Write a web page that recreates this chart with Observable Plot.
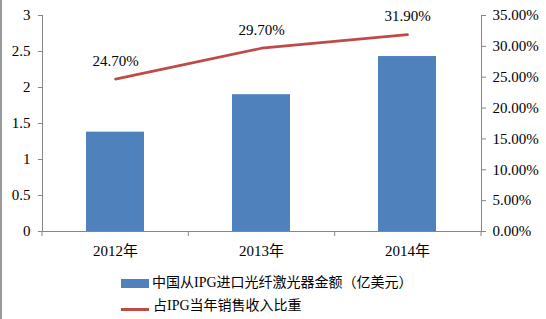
<!DOCTYPE html>
<html><head><meta charset="utf-8">
<script src="https://cdn.jsdelivr.net/npm/d3@7"></script>
<script src="https://cdn.jsdelivr.net/npm/@observablehq/plot@0.6"></script>
<style>
body{margin:0;background:#fff;}
#wrap{position:relative;width:546px;height:319px;overflow:hidden;background:#fff;font-family:"Liberation Serif","Times New Roman",serif,"Noto Sans CJK SC";}
#wrap svg{position:absolute;left:0;top:0;overflow:visible;}
#wrap svg text{font-family:"Liberation Serif","Times New Roman",serif,"Noto Sans CJK SC" !important;}
.border{position:absolute;left:0;top:0;width:2px;height:319px;background:#9a9a9a;}
.leg{position:absolute;font-size:14px;line-height:16px;color:#000;white-space:nowrap;}
.sw{position:absolute;}
</style></head><body><div id="wrap"></div>
<script>
const years = ["2012年", "2013年", "2014年"];
const amounts = [1.38, 1.90, 2.43];
const shares = [24.7, 29.7, 31.9];
const leftTicks = [0, 0.5, 1, 1.5, 2, 2.5, 3];
const rightTicks = [0, 5, 10, 15, 20, 25, 30, 35];
const seriesNames = ["中国从IPG进口光纤激光器金额（亿美元）", "占IPG当年销售收入比重"];
const leftMax = 3, rightMax = 35;
const toLeft = v => v * leftMax / rightMax;
const barColor = "#4F81BD", lineColor = "#BE4B48", gray = "#868686";

const data = years.map((y, i) => ({year: y, amount: amounts[i], share: shares[i]}));

const chart = Plot.plot({
  width: 546, height: 262,
  marginTop: 15, marginBottom: 31, marginLeft: 42, marginRight: 65,
  style: {fontSize: "15px", color: "#000", background: "transparent", overflow: "visible"},
  x: {domain: years, paddingInner: 0.6, paddingOuter: 0.3},
  y: {domain: [0, leftMax]},
  marks: [
    Plot.barY(data, {x: "year", y: "amount", fill: barColor}),
    Plot.ruleY([0], {stroke: gray}),
    Plot.frame({anchor: "left", stroke: gray}),
    Plot.frame({anchor: "right", stroke: gray}),
    Plot.axisY(leftTicks, {anchor: "left", label: null, tickSize: 4, tickPadding: 8, stroke: gray, fill: "#000", tickFormat: d => String(d)}),
    Plot.axisY(rightTicks.map(toLeft), {anchor: "right", label: null, tickSize: 4, tickPadding: 7, stroke: gray, fill: "#000", tickFormat: d => (d * rightMax / leftMax).toFixed(2) + "%"}),
    Plot.axisX({anchor: "bottom", label: null, tickSize: 0, tickPadding: 14, fill: "#000"}),
    Plot.line(data, {x: "year", y: d => toLeft(d.share), stroke: lineColor, strokeWidth: 2.7}),
    Plot.text(data, {x: "year", y: d => toLeft(d.share), text: d => d.share.toFixed(2) + "%", dy: -18, fontSize: 15, fill: "#000"})
  ]
});

// category boundary ticks on the x axis, positioned from the x scale's range
const sx = chart.scale("x"), sy = chart.scale("y");
const [r0, r1] = sx.range;
const y0 = sy.apply(0);
const g = d3.select(chart).append("g").attr("stroke", gray);
for (let i = 0; i <= years.length; i++) {
  const xp = r0 + i * (r1 - r0) / years.length;
  g.append("line").attr("x1", xp).attr("x2", xp).attr("y1", y0).attr("y2", y0 + 5);
}

const wrap = document.getElementById("wrap");
wrap.appendChild(chart);

const border = document.createElement("div");
border.className = "border";
wrap.appendChild(border);

function legendItem(swStyle, textLeft, textTop, label) {
  const sw = document.createElement("div");
  sw.className = "sw";
  Object.assign(sw.style, swStyle);
  wrap.appendChild(sw);
  const t = document.createElement("div");
  t.className = "leg";
  t.style.left = textLeft + "px";
  t.style.top = textTop + "px";
  t.textContent = label;
  wrap.appendChild(t);
}
legendItem({left: "121px", top: "279px", width: "28px", height: "9px", background: barColor}, 152, 275, seriesNames[0]);
legendItem({left: "121px", top: "308px", width: "28px", height: "3px", background: lineColor}, 153, 298, seriesNames[1]);
</script></body></html>
